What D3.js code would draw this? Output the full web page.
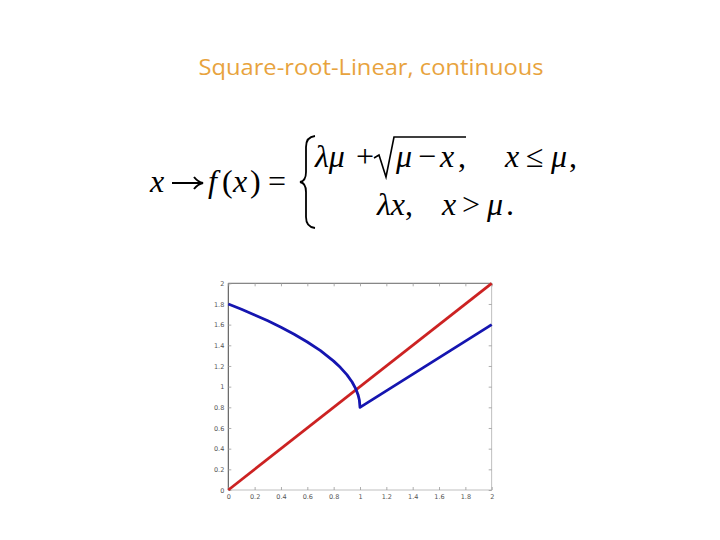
<!DOCTYPE html>
<html>
<head>
<meta charset="utf-8">
<script src="https://cdn.jsdelivr.net/npm/d3@7"></script>
<style>
  html, body { margin: 0; padding: 0; background: #ffffff; }
  svg { display: block; }
</style>
</head>
<body>
<svg id="chart" width="720" height="540"></svg>
<script>
// ---- data ----
const titleText = "Square-root-Linear, continuous";

// blue curve: square-root branch then linear branch
const blueX = [0, 0.1, 0.2, 0.3, 0.4, 0.5, 0.6, 0.7, 0.8, 0.85, 0.9, 0.94, 0.97, 0.985, 0.995, 1.0, 2.0];
const blueY = [1.8, 1.749, 1.694, 1.637, 1.575, 1.507, 1.432, 1.348, 1.247, 1.187, 1.116, 1.045, 0.973, 0.922, 0.871, 0.8, 1.6];

// red line
const redX = [0, 2];
const redY = [0, 2];

const xTicks = [0, 0.2, 0.4, 0.6, 0.8, 1, 1.2, 1.4, 1.6, 1.8, 2];
const yTicks = [0, 0.2, 0.4, 0.6, 0.8, 1, 1.2, 1.4, 1.6, 1.8, 2];
const xTickLabels = ["0", "0.2", "0.4", "0.6", "0.8", "1", "1.2", "1.4", "1.6", "1.8", "2"];
const yTickLabels = ["0", "0.2", "0.4", "0.6", "0.8", "1", "1.2", "1.4", "1.6", "1.8", "2"];

// ---- drawing ----
const svg = d3.select("#chart");

// title
svg.append("text")
  .attr("x", 371).attr("y", 75)
  .attr("text-anchor", "middle")
  .attr("font-family", "'Open Sans', 'DejaVu Sans', sans-serif")
  .attr("font-size", 21)
  .attr("fill", "#E8A33D")
  .attr("textLength", 345)
  .attr("lengthAdjust", "spacingAndGlyphs")
  .text(titleText);

// formula
const fm = svg.append("g")
  .attr("font-family", "'Liberation Serif', 'DejaVu Serif', serif")
  .attr("font-size", 32)
  .attr("fill", "#000");

function t(x, y, s, italic) {
  fm.append("text").attr("x", x).attr("y", y)
    .attr("font-style", italic ? "italic" : "normal")
    .text(s);
}
t(150, 192, "x", true);
// arrow
fm.append("path")
  .attr("d", "M172,183 L201,183")
  .attr("fill", "none").attr("stroke", "#000").attr("stroke-width", 2);
fm.append("path")
  .attr("d", "M194,177 Q198,182 203,183 Q198,184 194,189")
  .attr("fill", "none").attr("stroke", "#000").attr("stroke-width", 2);
t(208, 192, "f", true);
t(222, 192, "(", false);
t(233, 192, "x", true);
t(250, 192, ")", false);
t(268, 192, "=", false);

// brace
fm.append("path")
  .attr("d", "M315,136 Q306,137 306,147 L306,172 Q306,181 300,182 Q306,183 306,192 L306,217 Q306,227 315,228")
  .attr("fill", "none").attr("stroke", "#000").attr("stroke-width", 1.8);

// top row
t(315, 167, "\u03BB\u03BC", true);
t(356, 167, "+", false);
// radical sign
fm.append("path")
  .attr("d", "M374,158 L379,155 L386,177 L394,137 L466,137")
  .attr("fill", "none").attr("stroke", "#000").attr("stroke-width", 1.6);
t(396, 167, "\u03BC", true);
t(418, 167, "\u2212", false);
t(440, 167, "x", true);
t(458, 167, ",", false);
t(505, 167, "x", true);
t(526, 167, "\u2264", false);
t(551, 167, "\u03BC", true);
t(569, 167, ",", false);

// bottom row
t(377, 215, "\u03BBx", true);
t(405, 215, ",", false);
t(442, 215, "x", true);
t(462, 215, ">", false);
t(487, 215, "\u03BC", true);
t(506, 215, ".", false);

// plot
const x0 = 228.3, x1 = 491.7, y0 = 490, y1 = 283.3;
const xs = d3.scaleLinear().domain([0, 2]).range([x0, x1]);
const ys = d3.scaleLinear().domain([0, 2]).range([y0, y1]);

const plot = svg.append("g");

// box
plot.append("rect")
  .attr("x", x0).attr("y", y1)
  .attr("width", x1 - x0).attr("height", y0 - y1)
  .attr("fill", "#fff")
  .attr("stroke", "#b0b0b0").attr("stroke-width", 0.8);
plot.append("line").attr("x1", x0).attr("x2", x0).attr("y1", y0).attr("y2", y1)
  .attr("stroke", "#555").attr("stroke-width", 1);
plot.append("line").attr("x1", x0).attr("x2", x1).attr("y1", y1).attr("y2", y1)
  .attr("stroke", "#777").attr("stroke-width", 1);

const tickLen = 3;
const xAxisB = d3.axisBottom(xs).tickValues(xTicks).tickSizeInner(-tickLen).tickSizeOuter(0)
  .tickPadding(4).tickFormat((d, i) => xTickLabels[i]);
const yAxisL = d3.axisLeft(ys).tickValues(yTicks).tickSizeInner(-tickLen).tickSizeOuter(0)
  .tickPadding(4).tickFormat((d, i) => yTickLabels[i]);
const xAxisT = d3.axisTop(xs).tickValues(xTicks).tickSizeInner(-tickLen).tickSizeOuter(0).tickFormat("");
const yAxisR = d3.axisRight(ys).tickValues(yTicks).tickSizeInner(-tickLen).tickSizeOuter(0).tickFormat("");

function styleAxis(g) {
  g.select(".domain").remove();
  g.selectAll(".tick line").attr("stroke", "#999").attr("stroke-width", 0.8);
  g.selectAll(".tick text").attr("fill", "#555").attr("font-size", 6.5)
    .attr("font-family", "'DejaVu Sans', sans-serif");
}
plot.append("g").attr("transform", `translate(0,${y0})`).call(xAxisB).call(styleAxis);
plot.append("g").attr("transform", `translate(${x0},0)`).call(yAxisL).call(styleAxis);
plot.append("g").attr("transform", `translate(0,${y1})`).call(xAxisT).call(styleAxis);
plot.append("g").attr("transform", `translate(${x1},0)`).call(yAxisR).call(styleAxis);

const line = d3.line().x(d => xs(d[0])).y(d => ys(d[1]));

plot.append("path")
  .datum(redX.map((v, i) => [v, redY[i]]))
  .attr("d", line)
  .attr("fill", "none").attr("stroke", "#CC2222").attr("stroke-width", 2.8)
  .attr("stroke-linejoin", "round");

plot.append("path")
  .datum(blueX.map((v, i) => [v, blueY[i]]))
  .attr("d", line)
  .attr("fill", "none").attr("stroke", "#1515B0").attr("stroke-width", 2.8)
  .attr("stroke-linejoin", "round");
</script>
</body>
</html>
